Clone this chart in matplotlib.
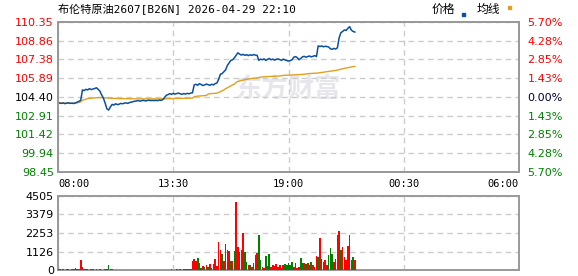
import matplotlib.pyplot as plt

plt.rcParams['font.family'] = ['DejaVu Sans', 'Noto Sans CJK SC']

# 分时数据: 从08:00起每5分钟一个点, 到22:10
minutes = list(range(0, 851, 5))
price = [103.95, 103.90, 103.88, 103.92, 103.86, 103.90, 103.93, 103.88, 103.90, 103.87, 103.92,
         103.98, 104.05, 104.12,
         104.95,
         104.90, 105.00, 104.95, 105.05, 104.98, 105.02, 105.06, 105.12,
         105.00, 104.85, 104.55, 104.30, 103.90, 103.45, 103.35, 103.60,
         103.80, 103.75, 103.85, 103.78, 103.82, 103.88, 103.85,
         103.90, 103.92, 103.88, 103.95, 103.98, 104.02,
         104.05, 104.08, 104.10, 104.06, 104.10, 104.12, 104.08, 104.10, 104.14, 104.10, 104.12, 104.10,
         104.12, 104.10, 104.14, 104.12, 104.18,
         104.35, 104.52,
         104.58, 104.65, 104.60, 104.68, 104.62, 104.66, 104.70, 104.64, 104.60, 104.66, 104.62, 104.68, 104.64, 104.70, 104.72,
         105.35,
         105.40, 105.32, 105.45, 105.38, 105.30, 105.35, 105.42, 105.36, 105.32, 105.40, 105.35, 105.45, 105.50,
         105.80, 106.20, 106.25, 106.40, 106.55, 106.90, 107.10, 107.30, 107.35, 107.50, 107.70, 107.90,
         107.80, 107.72, 107.78, 107.70, 107.75, 107.68, 107.74, 107.70, 107.76, 107.72, 107.70,
         107.30,
         107.40, 107.35, 107.42, 107.30, 107.38, 107.45, 107.35, 107.40, 107.32, 107.38, 107.42, 107.36, 107.30, 107.40, 107.34, 107.28, 107.25,
         107.28, 107.35,
         107.55, 107.60, 107.52, 107.35, 107.45, 107.58, 107.62, 107.55, 107.60, 107.65, 107.58, 107.62, 107.68, 107.60,
         108.45,
         108.40, 108.45, 108.38, 108.42, 108.40, 108.36,
         108.22, 108.18, 108.25, 108.20, 108.30,
         109.10, 109.50,
         109.60, 109.72, 109.68, 109.85,
         109.98, 109.70, 109.60, 109.55]
avg_line = [103.93, 103.92, 103.91, 103.91, 103.90, 103.90, 103.90, 103.90, 103.90, 103.90, 103.90,
            103.92, 103.95, 104.00,
            104.12, 104.18, 104.22, 104.25, 104.27, 104.29, 104.30,
            104.32, 104.33, 104.34, 104.34, 104.34, 104.33, 104.32, 104.31, 104.30, 104.29,
            104.28, 104.28, 104.27, 104.27, 104.26, 104.26, 104.26, 104.25, 104.25, 104.25,
            104.25, 104.25, 104.25, 104.24, 104.24, 104.24, 104.24, 104.24, 104.24, 104.24,
            104.24, 104.24, 104.24, 104.24, 104.24, 104.24, 104.24, 104.24, 104.24, 104.24,
            104.24, 104.25, 104.25, 104.26, 104.26, 104.26, 104.27, 104.27, 104.27, 104.28, 104.28, 104.28, 104.29, 104.29, 104.29, 104.30, 104.30,
            104.40, 104.44, 104.46, 104.47, 104.48, 104.49, 104.50, 104.52,
            104.62, 104.65, 104.66, 104.67, 104.68, 104.70, 104.74,
            104.82, 104.88, 104.95, 105.05, 105.12, 105.20, 105.28, 105.35, 105.42, 105.55,
            105.62, 105.66, 105.70, 105.73, 105.76, 105.79,
            105.82, 105.84, 105.86, 105.88, 105.89, 105.91, 105.93,
            105.97, 105.98, 105.99, 106.00, 106.01, 106.02, 106.02, 106.03, 106.04, 106.05, 106.05, 106.06, 106.08,
            106.10, 106.12, 106.12, 106.13, 106.13, 106.14, 106.15, 106.15, 106.16, 106.17, 106.18, 106.18, 106.20, 106.22,
            106.24, 106.25, 106.26, 106.27, 106.28, 106.28, 106.30, 106.32, 106.34,
            106.36, 106.38, 106.40, 106.42, 106.44,
            106.46, 106.48, 106.50, 106.52, 106.56, 106.60,
            106.63, 106.66, 106.69, 106.72, 106.75, 106.78, 106.80, 106.82]
volume = [40, 35, 30, 45, 30, 40, 35, 30, 50, 45,
          110, 40, 60, 633, 180, 60, 40, 35, 30, 40,
          35, 30, 40, 30, 35, 30, 30, 40, 35, 330,
          60, 35, 30, 30, 25, 30, 30, 25, 30, 30,
          25, 30, 30, 25, 30, 30, 25, 30, 25, 30,
          30, 25, 30, 30, 25, 30, 25, 30, 30, 25,
          30, 30, 25, 30, 30, 35, 30, 30, 35, 30,
          35, 30, 40, 35, 40, 45, 60, 520, 650, 560,
          720, 400, 120, 250, 160, 300, 200, 350, 150, 350,
          650, 250, 1715, 1200, 1000, 550, 1600, 1200, 1150, 550,
          550, 1150, 4160, 1400, 1100, 1200, 2250, 1100, 500, 300,
          300, 200, 400, 913, 1015, 2110, 600, 200, 150, 850,
          250, 1000, 200, 300, 250, 350, 200, 300, 150, 300,
          350, 300, 450, 300, 500, 200, 400, 150, 200, 710,
          400, 400, 350, 450, 300, 500, 300, 200, 850, 800,
          1970, 700, 500, 600, 300, 900, 1360, 1000, 500, 700,
          2130, 2370, 1220, 1420, 800, 600, 1480, 2130, 600, 800, 600]
vol_color = ("rrrgrrrrrr" "rrrrrrgrrr" "rrrrrrrrrg" "rrrgrrrrrr" "rrrrrgrrrr"
             "rrrrrrgrrr" "grrrgrrrrr" "rgrrrrrrrr" "grgrgrgrrr" "rrrrgrgrrg"
             "rgrrrgrgg" "r" "grggrggrrg" "rgrrrrrrgr" "ggggg" "rgrrg"
             "grgrggrrrg" "rrgrrggg" "rg" "rrgrrrrgrgr")

pre_close = 104.40
price_ticks = [98.45, 99.94, 101.42, 102.91, 104.40, 105.89, 107.38, 108.86, 110.35]
price_labels = ['98.45', '99.94', '101.42', '102.91', '104.40', '105.89', '107.38', '108.86', '110.35']
pct_labels = ['5.70%', '4.28%', '2.85%', '1.43%', '0.00%', '1.43%', '2.85%', '4.28%', '5.70%']
vol_ticks = [0, 1126, 2253, 3379, 4505]
time_ticks = [0, 330, 660, 990, 1320]
time_labels = ['08:00', '13:30', '19:00', '00:30', '06:00']

RED = '#ff0000'
GREEN = '#008000'
FRAME = '#999999'
GRID = '#cccccc'

fig = plt.figure(figsize=(5.78, 2.76), dpi=100)
ax = fig.add_axes([58 / 578, 104.3 / 276, 461 / 578, 149.7 / 276])
axv = fig.add_axes([58 / 578, 6 / 276, 461 / 578, 74 / 276])

# 水印
ax.text(0.5, 0.55, '东方财富', transform=ax.transAxes, fontsize=19, fontweight='bold',
        color='#e6e6ec', ha='center', va='center', zorder=0, family=['Noto Sans CJK SC'])

ax.plot(minutes, price, color='#0a4fa0', lw=1.1, zorder=3)
ax.plot(minutes, avg_line, color='#e0a020', lw=1.0, zorder=2)

ax.set_xlim(0, 1320)
ax.set_ylim(price_ticks[0], price_ticks[-1])
ax.set_yticks(price_ticks)
ax.set_yticklabels(price_labels, fontsize=8)
for lab, v in zip(ax.get_yticklabels(), price_ticks):
    if v > pre_close:
        lab.set_color(RED)
    elif v < pre_close:
        lab.set_color(GREEN)
    else:
        lab.set_color('#000000')
ax.set_xticks(time_ticks)
ax.set_xticklabels(time_labels, fontsize=7.5, family='DejaVu Sans Mono')
xl = ax.get_xticklabels()
xl[0].set_ha('left')
xl[-1].set_ha('right')
ax.tick_params(length=0, pad=3)
ax.tick_params(axis='x', pad=5)
ax.grid(True, color=GRID, ls=(0, (4, 3)), lw=1)

axr = ax.twinx()
axr.set_ylim(price_ticks[0], price_ticks[-1])
axr.set_yticks(price_ticks)
axr.set_yticklabels(pct_labels, fontsize=8)
for lab, v in zip(axr.get_yticklabels(), price_ticks):
    if v > pre_close:
        lab.set_color(RED)
    elif v < pre_close:
        lab.set_color(GREEN)
    else:
        lab.set_color('#000033')
axr.tick_params(length=0, pad=6)

# 成交量
colors = [RED if c == 'r' else GREEN for c in vol_color]
axv.bar(minutes, volume, width=4.6, color=colors, linewidth=0, zorder=3)
axv.set_xlim(0, 1320)
axv.set_ylim(0, 4505)
axv.set_yticks(vol_ticks)
axv.set_yticklabels([str(v) for v in vol_ticks], fontsize=8)
axv.set_xticks(time_ticks)
axv.set_xticklabels([])
axv.tick_params(length=0, pad=3)
axv.grid(True, color=GRID, ls=(0, (4, 3)), lw=1)

for a in (ax, axr, axv):
    for s in a.spines.values():
        s.set_color(FRAME)
        s.set_linewidth(1.4)

# 标题与图例
fig.text(58 / 578, 1 - 9.5 / 276, '布伦特原油2607[B26N] 2026-04-29 22:10', fontsize=8,
         va='center', ha='left', family=['DejaVu Sans Mono', 'Noto Sans CJK SC'])
fig.text(432 / 578, 1 - 9.5 / 276, '价格', fontsize=8.5, va='center', ha='left',
         family=['Noto Sans CJK SC'])
fig.patches.append(plt.Rectangle((462 / 578, 1 - 16 / 276), 3 / 578, 3 / 276,
                                 transform=fig.transFigure, color='#0a4fa0', figure=fig))
fig.text(477 / 578, 1 - 9.5 / 276, '均线', fontsize=8.5, va='center', ha='left',
         family=['Noto Sans CJK SC'])
fig.patches.append(plt.Rectangle((508 / 578, 1 - 9 / 276), 3 / 578, 3 / 276,
                                 transform=fig.transFigure, color='#e0a020', figure=fig))

fig.savefig('out.png', dpi=100)
